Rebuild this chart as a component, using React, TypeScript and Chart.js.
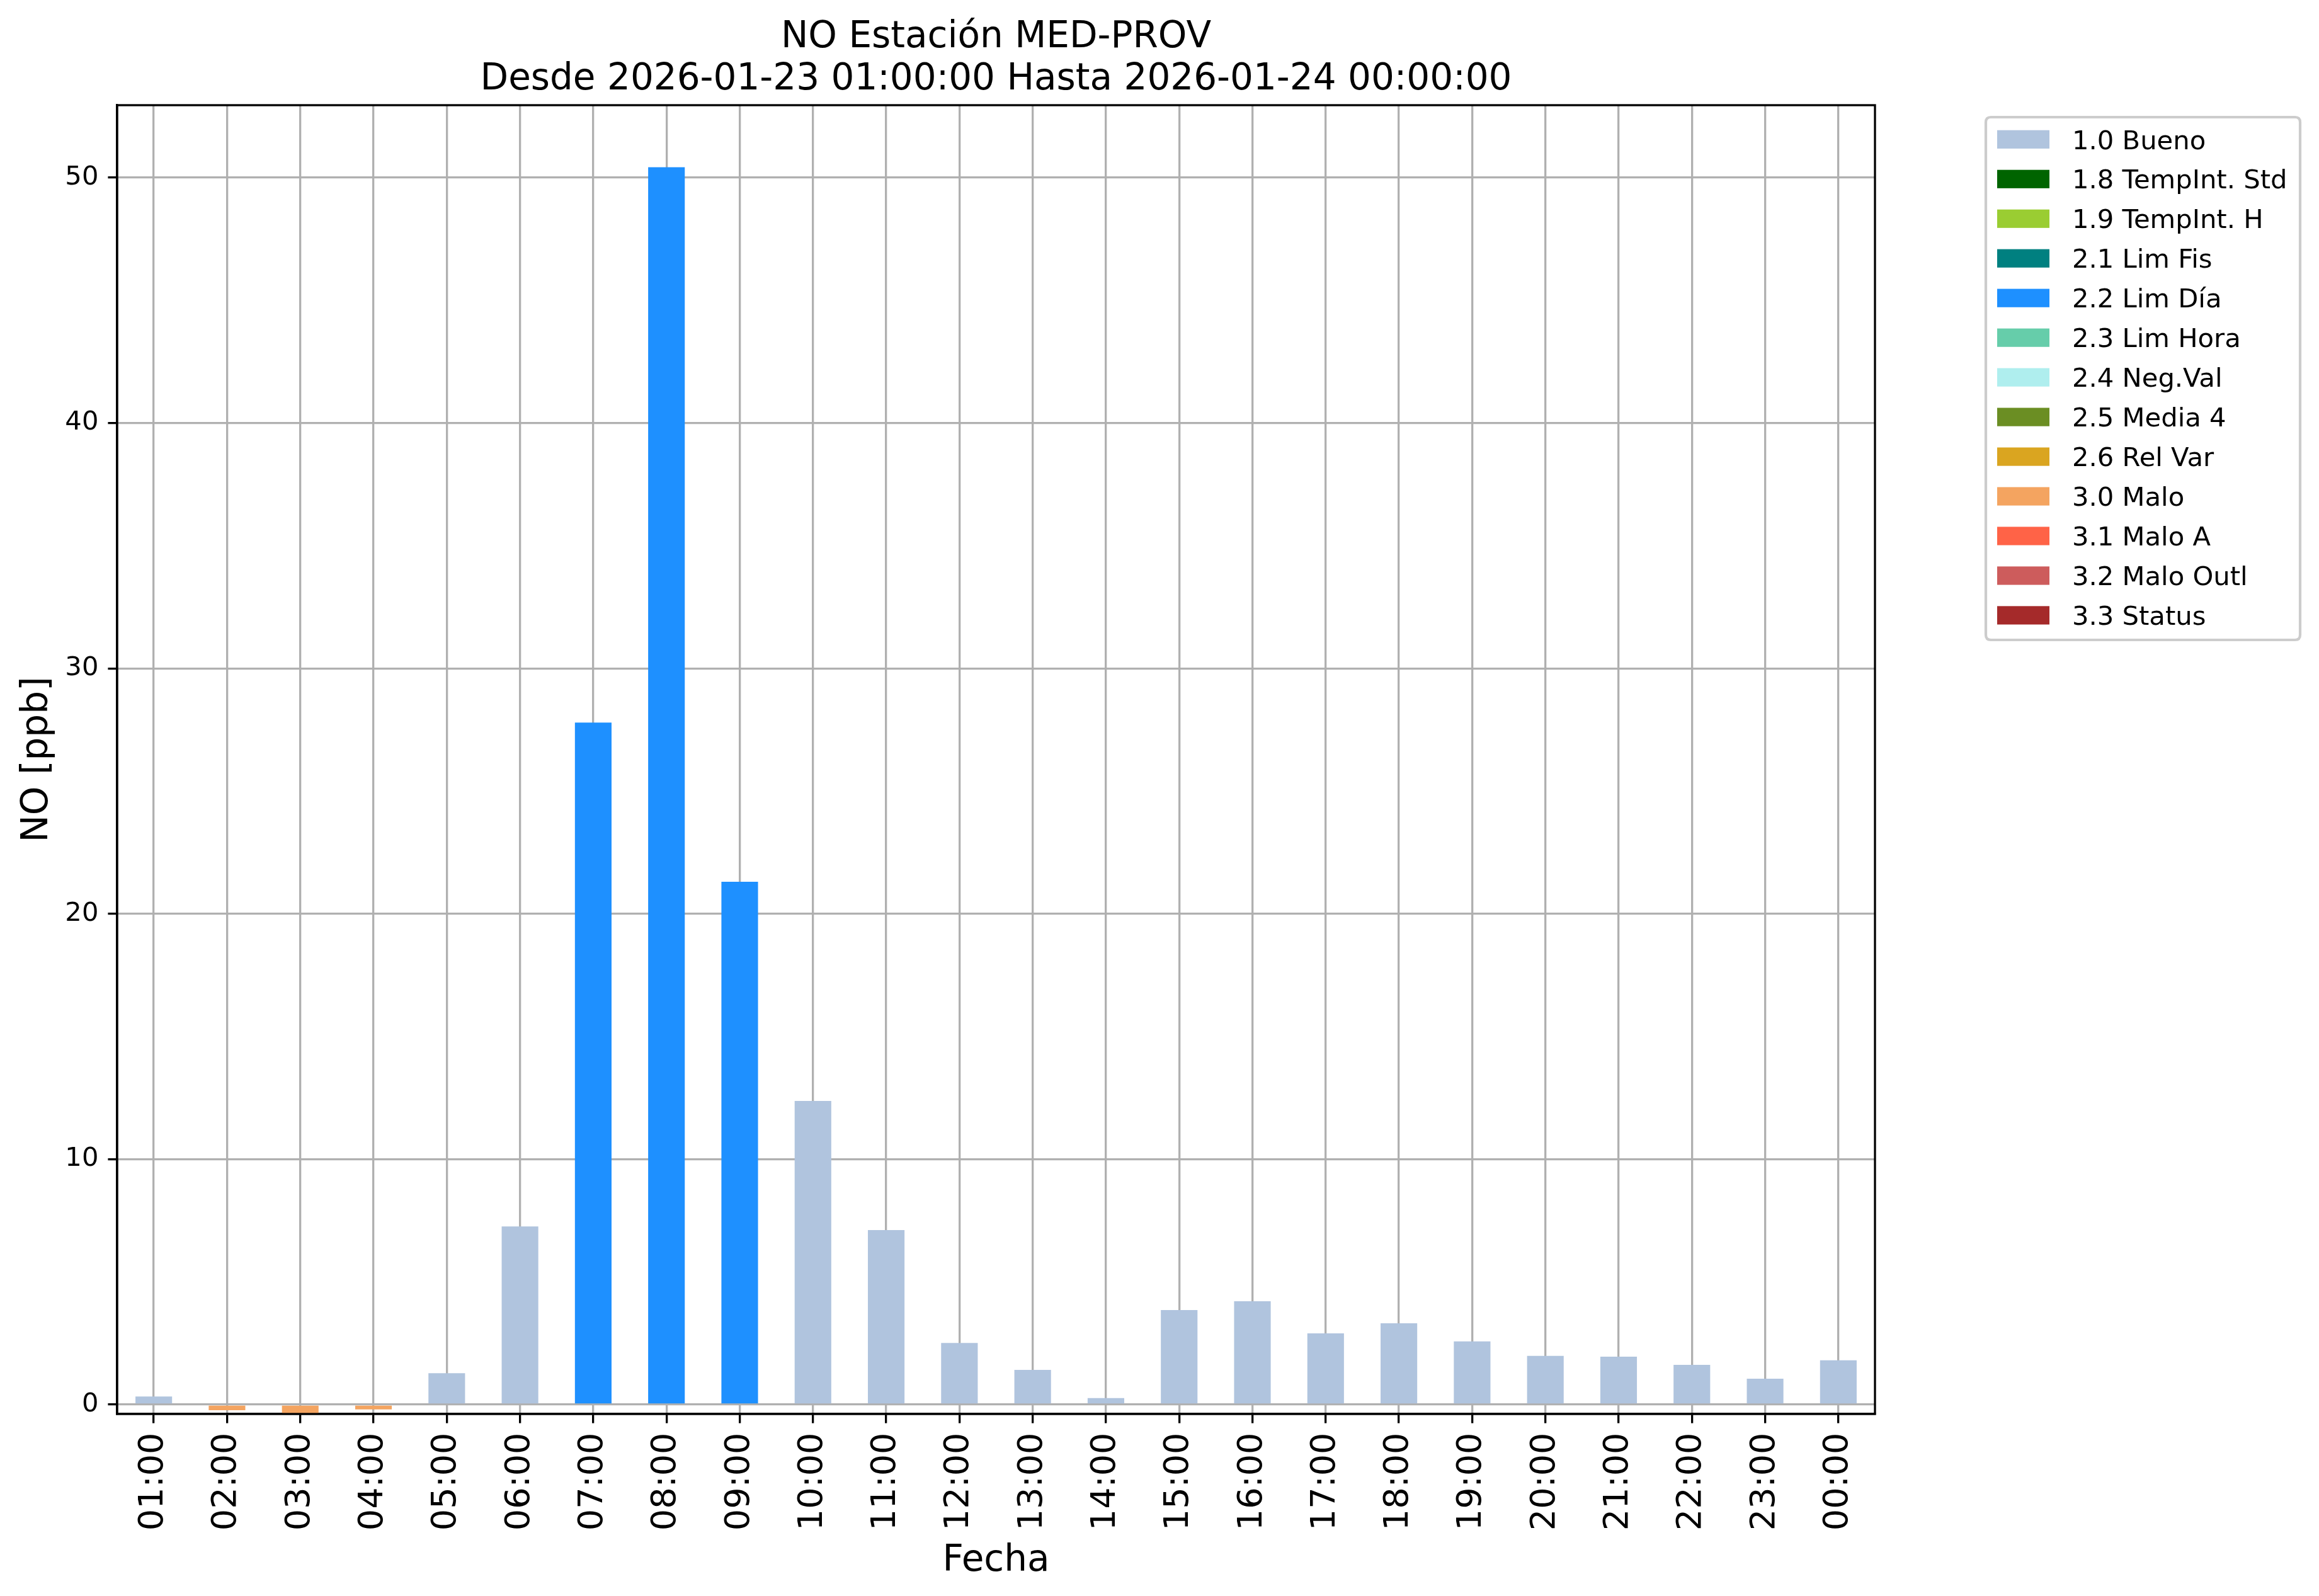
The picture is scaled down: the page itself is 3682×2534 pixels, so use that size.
import React, { useEffect, useRef } from 'react';
import { Chart, registerables } from 'chart.js';

Chart.register(...registerables);

const hours = ['01:00', '02:00', '03:00', '04:00', '05:00', '06:00', '07:00', '08:00', '09:00', '10:00', '11:00', '12:00', '13:00', '14:00', '15:00', '16:00', '17:00', '18:00', '19:00', '20:00', '21:00', '22:00', '23:00', '00:00'];
const noValues = [0.33, -0.23, -0.38, -0.2, 1.28, 7.26, 27.79, 50.42, 21.3, 12.37, 7.11, 2.51, 1.41, 0.26, 3.85, 4.21, 2.9, 3.31, 2.57, 1.98, 1.95, 1.62, 1.05, 1.8];
const hourFlags = [
  '1.0 Bueno', '3.0 Malo', '3.0 Malo', '3.0 Malo', '1.0 Bueno', '1.0 Bueno',
  '2.2 Lim Día', '2.2 Lim Día', '2.2 Lim Día',
  '1.0 Bueno', '1.0 Bueno', '1.0 Bueno', '1.0 Bueno', '1.0 Bueno', '1.0 Bueno', '1.0 Bueno', '1.0 Bueno',
  '1.0 Bueno', '1.0 Bueno', '1.0 Bueno', '1.0 Bueno', '1.0 Bueno', '1.0 Bueno', '1.0 Bueno',
];
const flagLabels = ['1.0 Bueno', '1.8 TempInt. Std', '1.9 TempInt. H', '2.1 Lim Fis', '2.2 Lim Día', '2.3 Lim Hora', '2.4 Neg.Val', '2.5 Media 4', '2.6 Rel Var', '3.0 Malo', '3.1 Malo A', '3.2 Malo Outl', '3.3 Status'];
const flagColors = ['#b0c4de', '#006400', '#9acd32', '#008080', '#1e90ff', '#66cdaa', '#afeeee', '#6b8e23', '#daa520', '#f4a460', '#ff6347', '#cd5c5c', '#a52a2a'];
const yTicks = [0, 10, 20, 30, 40, 50];
const titleLines = ['NO Estación MED-PROV', 'Desde 2026-01-23 01:00:00 Hasta 2026-01-24 00:00:00'];
const xAxisTitle = 'Fecha';
const yAxisTitle = 'NO [ppb]';

const FONT = "'DejaVu Sans', sans-serif";

const decorPlugin = {
  id: 'decor',
  afterDraw(chart: any) {
    const ctx = chart.ctx;
    const a = chart.chartArea;
    ctx.save();
    // frame
    ctx.strokeStyle = '#000';
    ctx.lineWidth = 3.3;
    ctx.strokeRect(a.left, a.top, a.right - a.left, a.bottom - a.top);
    // title
    ctx.fillStyle = '#000';
    ctx.font = `58px ${FONT}`;
    ctx.textAlign = 'center';
    ctx.textBaseline = 'alphabetic';
    const cx = (a.left + a.right) / 2;
    ctx.fillText(titleLines[0], cx, 75);
    ctx.fillText(titleLines[1], cx, 142);
    // x axis title
    ctx.fillText(xAxisTitle, cx, 2494);
    // y axis title
    ctx.save();
    ctx.translate(75, (a.top + a.bottom) / 2);
    ctx.rotate(-Math.PI / 2);
    ctx.textAlign = 'center';
    ctx.fillText(yAxisTitle, 0, 0);
    ctx.restore();
    // legend
    const lx0 = 3153, ly0 = 186, lx1 = 3652, ly1 = 1016, r = 8;
    ctx.beginPath();
    ctx.moveTo(lx0 + r, ly0);
    ctx.lineTo(lx1 - r, ly0);
    ctx.quadraticCurveTo(lx1, ly0, lx1, ly0 + r);
    ctx.lineTo(lx1, ly1 - r);
    ctx.quadraticCurveTo(lx1, ly1, lx1 - r, ly1);
    ctx.lineTo(lx0 + r, ly1);
    ctx.quadraticCurveTo(lx0, ly1, lx0, ly1 - r);
    ctx.lineTo(lx0, ly0 + r);
    ctx.quadraticCurveTo(lx0, ly0, lx0 + r, ly0);
    ctx.closePath();
    ctx.fillStyle = '#ffffff';
    ctx.fill();
    ctx.strokeStyle = '#cccccc';
    ctx.lineWidth = 4.2;
    ctx.stroke();
    ctx.font = `41.7px ${FONT}`;
    ctx.textAlign = 'left';
    ctx.textBaseline = 'alphabetic';
    flagLabels.forEach((lab, i) => {
      const cy = 221.3 + i * 62.97;
      ctx.fillStyle = flagColors[i];
      ctx.fillRect(3171, cy - 14.6, 83, 29.2);
      ctx.fillStyle = '#000';
      ctx.fillText(lab, 3290, cy + 15.2);
    });
    ctx.restore();
  },
};

export default function App() {
  const ref = useRef<HTMLCanvasElement | null>(null);
  useEffect(() => {
    document.body.style.margin = '0';
    const canvas = ref.current;
    if (!canvas) return;
    const datasets = flagLabels.map((lab, k) => ({
      label: lab,
      data: noValues.map((v, i) => (hourFlags[i] === lab ? v : null)),
      backgroundColor: flagColors[k],
      borderWidth: 0,
      barPercentage: 0.5,
      categoryPercentage: 1.0,
    }));
    const chart = new Chart(canvas, {
      type: 'bar',
      data: { labels: hours, datasets },
      options: {
        responsive: false,
        devicePixelRatio: 1,
        animation: false,
        layout: { padding: { top: 167, right: 705, bottom: 0, left: 0 } },
        plugins: {
          legend: { display: false },
          title: { display: false },
          tooltip: { enabled: false },
        },
        scales: {
          x: {
            type: 'category',
            stacked: true,
            offset: true,
            z: 1,
            grid: {
              offset: false,
              color: '#b0b0b0',
              lineWidth: 3.3,
              drawTicks: true,
              tickLength: 14.6,
              tickColor: '#000',
              tickWidth: 3.3,
            },
            border: { display: true, color: '#000', width: 3.3 },
            ticks: {
              autoSkip: false,
              minRotation: 90,
              maxRotation: 90,
              padding: 15,
              color: '#000',
              font: { family: FONT, size: 54 },
            },
            afterFit: (s: any) => { s.height = 289; },
          },
          y: {
            type: 'linear',
            stacked: true,
            min: -0.385,
            max: 52.95,
            z: 1,
            grid: {
              color: '#b0b0b0',
              lineWidth: 3.3,
              drawTicks: true,
              tickLength: 14.6,
              tickColor: '#000',
              tickWidth: 3.3,
            },
            border: { display: true, color: '#000', width: 3.3 },
            ticks: {
              padding: 15,
              color: '#000',
              font: { family: FONT, size: 41.7 },
            },
            afterBuildTicks: (s: any) => { s.ticks = yTicks.map((v) => ({ value: v })); },
            afterFit: (s: any) => { s.width = 186; },
          },
        },
      },
      plugins: [decorPlugin],
    });
    return () => chart.destroy();
  }, []);
  return (
    <div style={{ position: 'absolute', left: 0, top: 0, width: 3682, height: 2534, background: '#fff' }}>
      <canvas ref={ref} width={3682} height={2534} style={{ display: 'block', width: 3682, height: 2534 }} />
    </div>
  );
}
